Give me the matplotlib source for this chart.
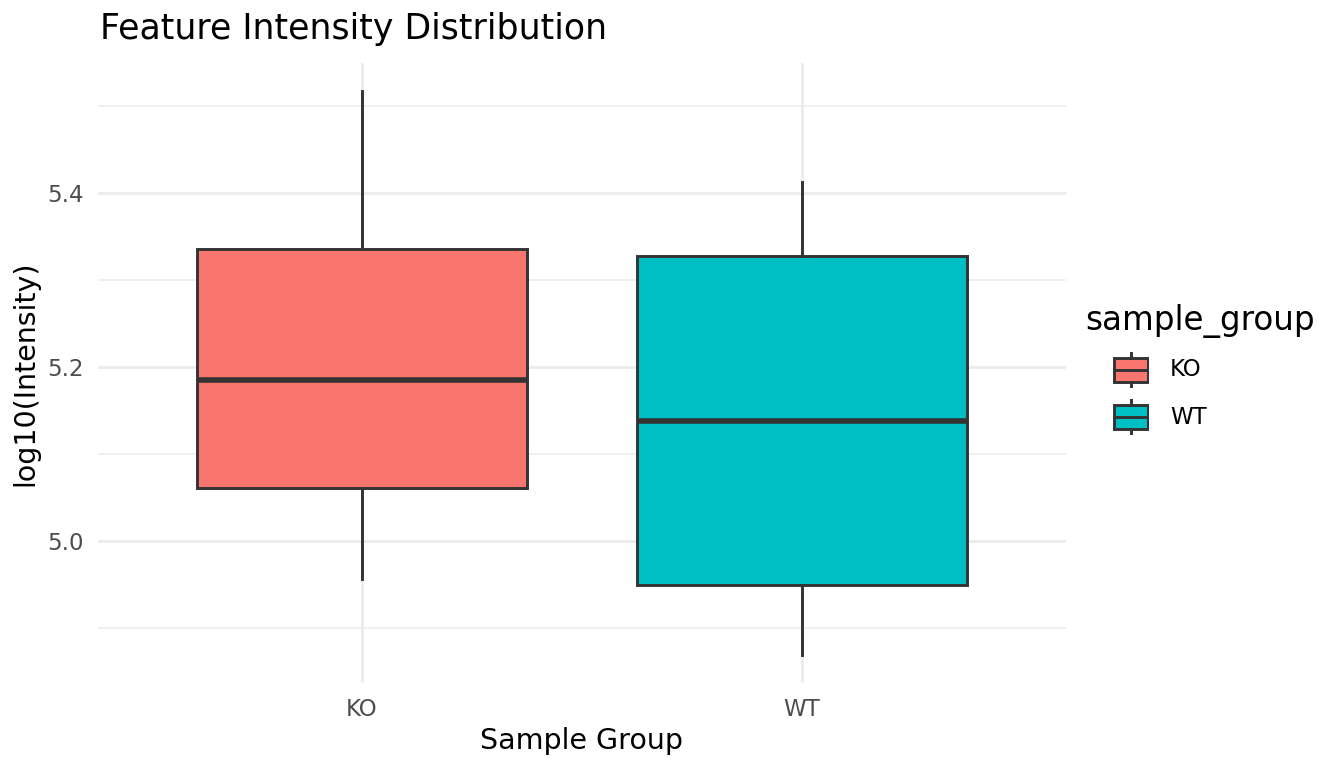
import numpy as np
import matplotlib.pyplot as plt
from matplotlib.patches import Rectangle

groups = ["KO", "WT"]
colors = ["#F8766D", "#00BFC4"]
whislo = [4.956, 4.869]
q1 = [5.061, 4.949]
med = [5.185, 5.138]
q3 = [5.335, 5.328]
whishi = [5.517, 5.413]

W, H = 1344, 768
fig = plt.figure(figsize=(W / 100, H / 100), dpi=100)
# panel in pixels: x 98..1066, y 63..683
ax = fig.add_axes([98 / W, 1 - 683 / H, (1066 - 98) / W, (683 - 63) / H])

stats = []
for i, g in enumerate(groups):
    stats.append(dict(label=g, whislo=whislo[i], q1=q1[i], med=med[i], q3=q3[i], whishi=whishi[i], fliers=[]))

lc = "#333333"
lw = 2.1
bp = ax.bxp(stats, positions=[1, 2], widths=0.75, patch_artist=True, showcaps=False,
            boxprops=dict(edgecolor=lc, linewidth=lw),
            whiskerprops=dict(color=lc, linewidth=lw),
            medianprops=dict(color=lc, linewidth=4.0, solid_capstyle="butt"),
            zorder=3)
for patch, c in zip(bp["boxes"], colors):
    patch.set_facecolor(c)

lo = min(whislo)
hi = max(whishi)
pad = (hi - lo) * 0.05
ax.set_xlim(0.4, 2.6)
ax.set_ylim(lo - pad, hi + pad)
ax.set_yticks([5.0, 5.2, 5.4])
ax.set_yticks([4.9, 5.1, 5.3, 5.5], minor=True)
ax.set_xticks([1, 2])
ax.set_xticklabels(groups)
ax.grid(which="major", color="#EBEBEB", linewidth=2.0, zorder=0)
ax.grid(which="minor", axis="y", color="#EBEBEB", linewidth=1.1, zorder=0)
ax.set_axisbelow(True)
for s in ax.spines.values():
    s.set_visible(False)
ax.tick_params(which="both", length=0, labelsize=16.5, labelcolor="#4D4D4D")
ax.tick_params(axis="y", pad=10)
ax.tick_params(axis="x", pad=11)
ax.set_xlabel("Sample Group", fontsize=20.5, labelpad=4)
ax.set_ylabel("log10(Intensity)", fontsize=20.5, labelpad=6)
ax.set_title("Feature Intensity Distribution", fontsize=25, loc="left", x=0.002, pad=17)

# legend
fig.text(1085 / W, 1 - 321 / H, "sample_group", fontsize=23.5, va="center", ha="left")
key_y = [370, 417]
for i, g in enumerate(groups):
    cy = key_y[i]
    lax = fig.add_axes([1113 / W, 1 - (cy + 18) / H, 36 / W, 36 / H])
    lax.set_xlim(0, 36)
    lax.set_ylim(36, 0)
    lax.axis("off")
    lax.plot([18, 18], [0, 6], color=lc, lw=lw)
    lax.plot([18, 18], [30, 36], color=lc, lw=lw)
    lax.add_patch(Rectangle((1, 6), 34, 24, facecolor=colors[i], edgecolor=lc, lw=lw))
    lax.plot([1, 35], [18, 18], color=lc, lw=lw)
    fig.text(1170 / W, 1 - cy / H, g, fontsize=16.5, va="center", ha="left")

fig.savefig("out.png", dpi=100)
